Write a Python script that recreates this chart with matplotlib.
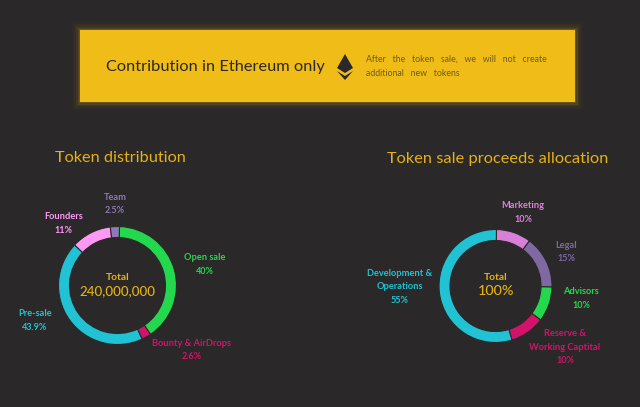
import matplotlib
matplotlib.use("Agg")
import matplotlib.pyplot as plt
from matplotlib.patches import Rectangle, Polygon

W, H = 640, 407
BG = "#2a2829"
GOLD = "#f0bc17"
TITLE_GOLD = "#e5b116"
plt.rcParams["font.family"] = ["Lato", "DejaVu Sans"]

left_title = "Token distribution"
left_labels = ["Open sale", "Bounty & AirDrops", "Pre-sale", "Founders", "Team"]
left_values = [40, 2.6, 43.9, 11, 2.5]
left_pct = ["40%", "2.6%", "43.9%", "11%", "2.5%"]
left_colors = ["#24d84e", "#d3136b", "#21c2d4", "#ff99f5", "#9079b6"]
left_total = "240,000,000"

right_title = "Token sale proceeds allocation"
right_labels = ["Marketing", "Legal", "Advisors", "Reserve &\nWorking Captital", "Development &\nOperations"]
right_values = [10, 15, 10, 10, 55]
right_pct = ["10%", "15%", "10%", "10%", "55%"]
right_colors = ["#d87fd8", "#7f69a3", "#24d84e", "#d3136b", "#21c2d4"]
right_total = "100%"

fig = plt.figure(figsize=(W / 100, H / 100), dpi=100, facecolor=BG)
bg = fig.add_axes([0, 0, 1, 1])
bg.set_xlim(0, W)
bg.set_ylim(H, 0)
bg.axis("off")

# banner with glow
for grow, alpha in [(8, 0.02), (6, 0.04), (4, 0.06), (2.5, 0.1), (1.2, 0.15)]:
    bg.add_patch(Rectangle((80 - grow, 30 - grow), 495 + 2 * grow, 72 + 2 * grow,
                           fc=GOLD, ec="none", alpha=alpha))
bg.add_patch(Rectangle((80, 30), 495, 72, fc=GOLD, ec="none"))
bg.text(105.5, 67, "Contribution in Ethereum only", fontsize=11.8, color="#2a2829",
        va="center", ha="left")
DK = "#2a2829"
bg.add_patch(Polygon([(345, 54), (337, 68), (345, 73), (353, 68)], fc=DK, ec="none"))
bg.add_patch(Polygon([(337, 71), (345, 76), (353, 71), (345, 80)], fc=DK, ec="none"))
bg.text(366, 59.5, "After   the   token   sale,   we   will   not   create", fontsize=6.3,
        color="#6e5a1a", va="center", ha="left")
bg.text(366, 73, "additional   new   tokens", fontsize=6.3, color="#6e5a1a", va="center", ha="left")

# titles
bg.text(120, 158.5, left_title, fontsize=11.7, color=TITLE_GOLD, ha="center", va="center")
bg.text(498, 158.5, right_title, fontsize=11.75, color=TITLE_GOLD, ha="center", va="center")


def donut(cx, cy, r, values, colors, start):
    ax = fig.add_axes([(cx - r) / W, 1 - (cy + r) / H, 2 * r / W, 2 * r / H])
    ax.pie(values, colors=colors, startangle=start, counterclock=False, radius=1,
           wedgeprops=dict(width=11 / r, edgecolor=BG, linewidth=0.8))
    ax.set_xlim(-1, 1)
    ax.set_ylim(-1, 1)
    ax.set_aspect("equal")
    ax.axis("off")


donut(117.5, 285.5, 59, left_values, left_colors, 88)
donut(495.5, 286, 56.5, right_values, right_colors, 89)


def label(x, y, name, pct, color, fs=6.7):
    lines = name.split("\n")
    for i, s in enumerate(lines):
        bg.text(x, y + i * 13.6, s, color=color, fontsize=fs, ha="center", va="center", fontweight="bold")
    bg.text(x, y + len(lines) * 13.6, pct, color=color, fontsize=fs - 0.2, ha="center", va="center", fontweight="bold")


label(205, 258, left_labels[0], left_pct[0], left_colors[0])
label(191.5, 343, left_labels[1], left_pct[1], left_colors[1])
label(35, 314, left_labels[2], left_pct[2], left_colors[2])
label(63.5, 216.5, left_labels[3], left_pct[3], "#ff99f5")
label(115, 197, left_labels[4], left_pct[4], "#8f78b5")

label(523, 206, right_labels[0], right_pct[0], "#e27fe0")
label(566.5, 245, right_labels[1], right_pct[1], right_colors[1])
label(581, 291.5, right_labels[2], right_pct[2], right_colors[2])
label(565, 333.5, right_labels[3], right_pct[3], right_colors[3])
label(399.5, 273, right_labels[4], right_pct[4], right_colors[4])

# centre texts
bg.text(117.5, 278, "Total", color=TITLE_GOLD, fontsize=7.4, ha="center", va="center", fontweight="bold")
bg.text(117.5, 291, left_total, color=TITLE_GOLD, fontsize=9.6, ha="center", va="center", fontweight="medium")
bg.text(496, 278, "Total", color=TITLE_GOLD, fontsize=7.4, ha="center", va="center", fontweight="bold")
bg.text(496, 291, right_total, color=TITLE_GOLD, fontsize=10.4, ha="center", va="center", fontweight="medium")

fig.savefig("out.png", dpi=100, facecolor=BG)
